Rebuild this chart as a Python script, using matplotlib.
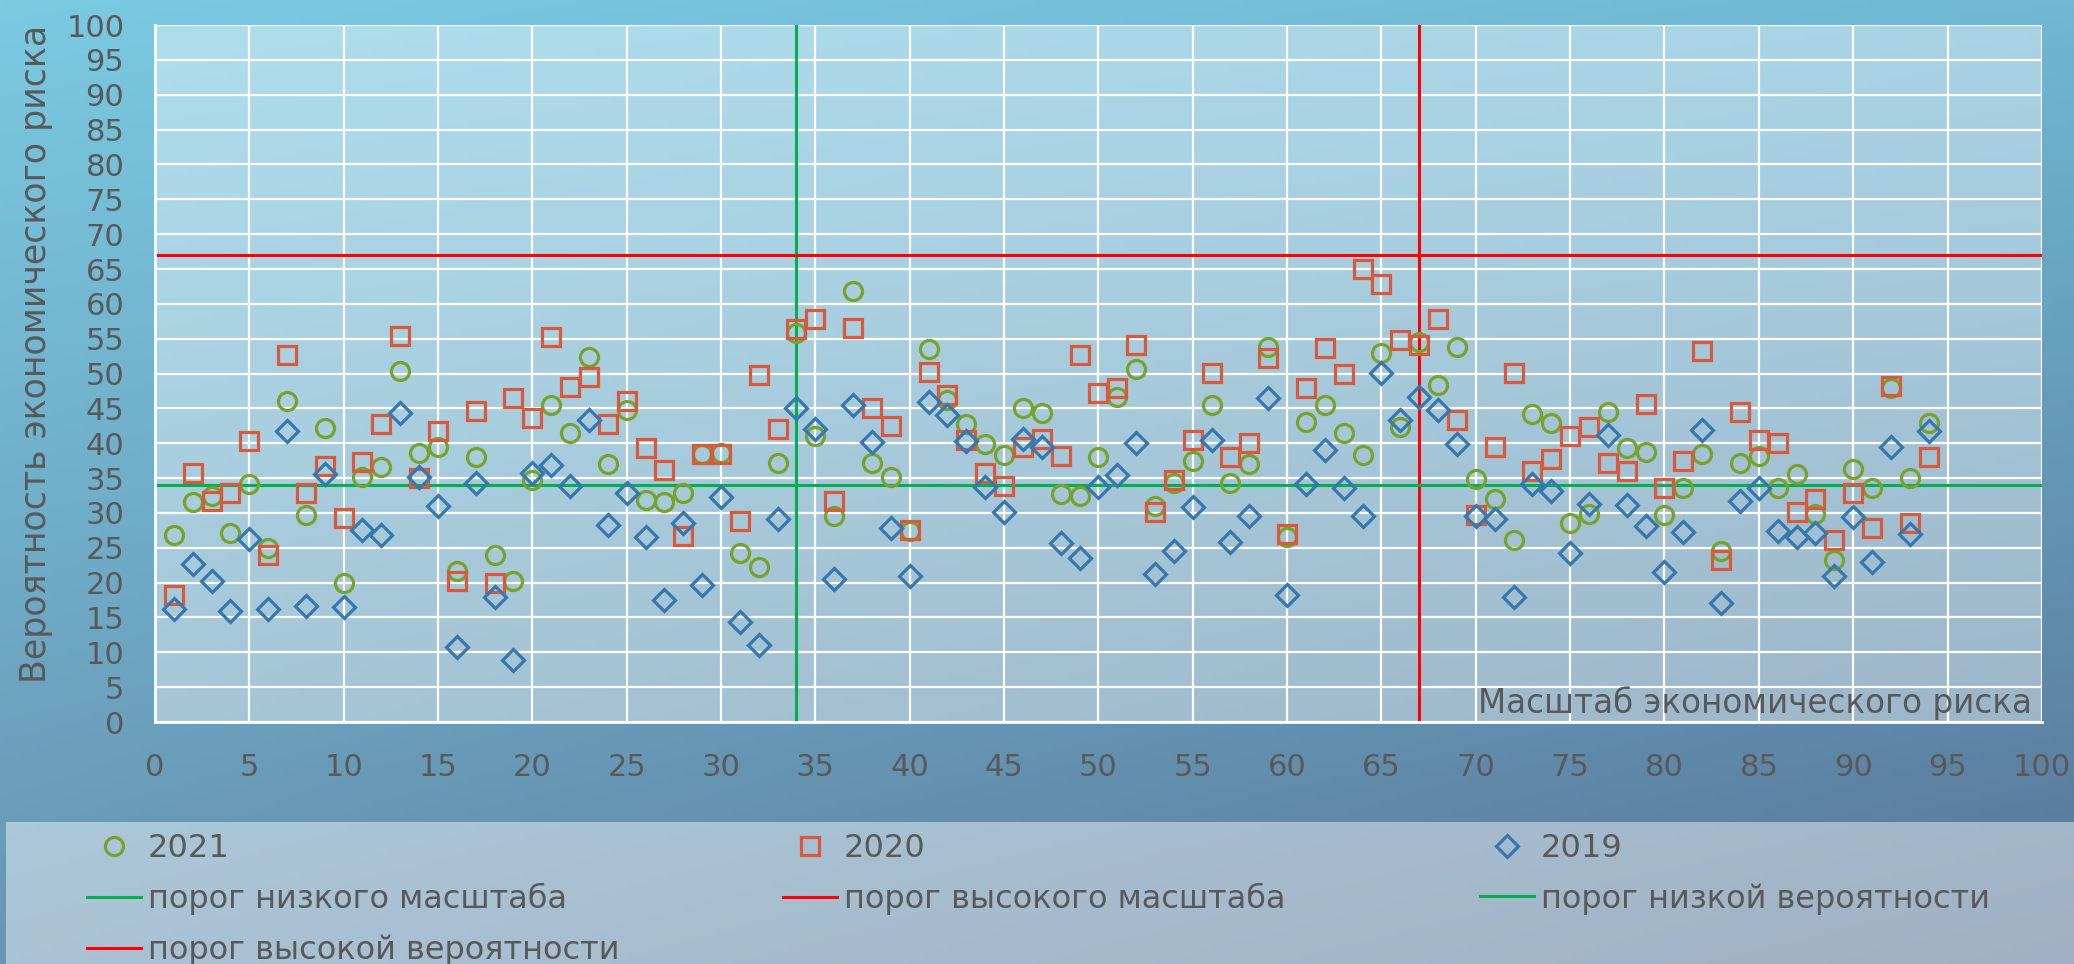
import numpy as np
import matplotlib.pyplot as plt

x = np.arange(1, 95)
y2021 = [26.8, 31.6, 32.5, 27.1, 34.2, 25.0, 46.1, 29.7, 42.2, 19.9,
         35.2, 36.6, 50.4, 38.6, 39.4, 21.7, 38.0, 24.0, 20.3, 34.7,
         45.5, 41.5, 52.4, 37.0, 44.8, 31.8, 31.5, 32.9, 38.4, 38.6,
         24.2, 22.2, 37.2, 55.8, 41.1, 29.6, 61.8, 37.2, 35.2, 27.4,
         53.5, 46.2, 42.7, 39.9, 38.3, 45.0, 44.3, 32.7, 32.5, 38.0,
         46.6, 50.6, 31.0, 34.3, 37.4, 45.5, 34.3, 37.0, 53.8, 26.6,
         43.0, 45.5, 41.5, 38.3, 53.0, 42.3, 54.5, 48.3, 53.8, 34.8,
         32.0, 26.1, 44.2, 42.9, 28.6, 29.8, 44.5, 39.3, 38.7, 29.7,
         33.6, 38.5, 24.6, 37.2, 38.2, 33.6, 35.6, 29.8, 23.3, 36.3,
         33.6, 47.9, 35.0, 42.9]
y2020 = [18.2, 35.7, 31.7, 32.9, 40.3, 23.9, 52.6, 32.8, 36.7, 29.3,
         37.3, 42.8, 55.4, 35.0, 41.7, 20.3, 44.6, 19.9, 46.5, 43.6,
         55.2, 48.1, 49.5, 42.8, 46.0, 39.3, 36.1, 26.7, 38.4, 38.4,
         28.9, 49.8, 42.0, 56.4, 57.8, 31.7, 56.5, 45.1, 42.5, 27.6,
         50.2, 46.9, 40.4, 35.7, 33.9, 39.4, 40.6, 38.1, 52.7, 47.2,
         47.9, 54.1, 30.1, 34.7, 40.5, 50.1, 38.0, 40.1, 52.2, 27.0,
         47.9, 53.7, 49.9, 65.0, 62.8, 54.8, 54.1, 57.8, 43.4, 29.7,
         39.4, 50.1, 36.0, 37.7, 41.1, 42.3, 37.2, 36.0, 45.6, 33.6,
         37.5, 53.3, 23.2, 44.5, 40.5, 40.1, 30.1, 32.0, 26.1, 32.9,
         27.9, 48.2, 28.5, 38.0]
y2019 = [16.2, 22.7, 20.3, 15.9, 26.2, 16.2, 41.7, 16.7, 35.6, 16.5,
         27.5, 26.9, 44.4, 35.1, 31.0, 10.8, 34.3, 18.0, 8.9, 35.7,
         36.9, 33.9, 43.4, 28.3, 32.9, 26.5, 17.5, 28.6, 19.6, 32.3,
         14.4, 11.1, 29.2, 45.0, 42.1, 20.5, 45.5, 40.2, 27.8, 20.9,
         45.9, 44.0, 40.3, 33.7, 30.2, 40.6, 39.5, 25.7, 23.6, 33.7,
         35.5, 40.0, 21.3, 24.6, 30.8, 40.4, 25.8, 29.6, 46.5, 18.2,
         34.2, 39.0, 33.6, 29.6, 50.1, 43.4, 46.6, 44.7, 39.9, 29.6,
         29.2, 18.0, 34.2, 33.2, 24.2, 31.3, 41.2, 31.1, 28.1, 21.5,
         27.3, 41.9, 17.1, 31.7, 33.6, 27.4, 26.6, 27.1, 20.9, 29.4,
         22.9, 39.5, 27.0, 41.7]
low_scale = 34
high_scale = 67
low_prob = 34
high_prob = 67
ticks = np.arange(0, 101, 5)

plt.rcParams['font.family'] = 'DejaVu Sans'
text_color = '#595959'

fig = plt.figure(figsize=(20.74, 9.64), dpi=100)

# gradient background
bg = fig.add_axes([0, 0, 1, 1], zorder=-10)
yy, xx = np.mgrid[0:1:200j, 0:1:400j]
tl = np.array([122, 202, 226]) / 255
tr = np.array([112, 184, 212]) / 255
bl = np.array([104, 150, 180]) / 255
br = np.array([88, 116, 150]) / 255
img = ((1 - xx) * (1 - yy))[..., None] * tl + (xx * (1 - yy))[..., None] * tr \
    + ((1 - xx) * yy)[..., None] * bl + (xx * yy)[..., None] * br
bg.imshow(img, aspect='auto', extent=[0, 1, 0, 1])
bg.add_patch(plt.Rectangle((0.003, 0), 0.997, 0.147, color='white', alpha=0.44, lw=0))
bg.set_xlim(0, 1)
bg.set_ylim(0, 1)
bg.axis('off')

ax = fig.add_axes([0.0747, 0.251, 0.9098, 0.723])
ax.set_facecolor((1, 1, 1, 0.40))
ax.grid(color='white', linewidth=1.6)
ax.set_axisbelow(True)
for s in ['top', 'right']:
    ax.spines[s].set_visible(False)
for s in ['left', 'bottom']:
    ax.spines[s].set_color('white')
    ax.spines[s].set_linewidth(2)

l1 = ax.axvline(low_scale, color='#00b050', lw=2.2, label='порог низкого масштаба')
l2 = ax.axvline(high_scale, color='#ff0000', lw=2.2, label='порог высокого масштаба')
l3 = ax.axhline(low_prob, color='#00b050', lw=2.2, label='порог низкой вероятности')
l4 = ax.axhline(high_prob, color='#ff0000', lw=2.2, label='порог высокой вероятности')

p1, = ax.plot(x, y2021, 'o', ls='none', mfc='none', mec='#77a32c', mew=2.3, ms=13, label='2021')
p2, = ax.plot(x, y2020, 's', ls='none', mfc='none', mec='#d85a3c', mew=2.3, ms=13, label='2020')
p3, = ax.plot(x, y2019, 'D', ls='none', mfc='none', mec='#3677ae', mew=2.3, ms=11, label='2019')

ax.set_xlim(0, 100)
ax.set_ylim(0, 100)
ax.set_xticks(ticks)
ax.set_yticks(ticks)
ax.tick_params(length=0, pad=22, labelsize=22, labelcolor=text_color)

ax.text(0.995, 0.027, 'Масштаб экономического риска', transform=ax.transAxes,
        ha='right', va='center', fontsize=23.5, color=text_color)
fig.text(0.0174, 0.633, 'Вероятность экономического риска', rotation=90,
         ha='center', va='center', fontsize=25, color=text_color)

cols = [([p1, l1, l4], 0.042), ([p2, l2], 0.3775), ([p3, l3], 0.7136)]
for handles, x0 in cols:
    fig.legend(handles=handles, loc='upper left', bbox_to_anchor=(x0, 0.136),
               bbox_transform=fig.transFigure, frameon=False, fontsize=23,
               labelcolor=text_color, borderpad=0, borderaxespad=0,
               handlelength=1.7, handletextpad=0.2, labelspacing=0.6)

fig.savefig('out.png', dpi=100)
